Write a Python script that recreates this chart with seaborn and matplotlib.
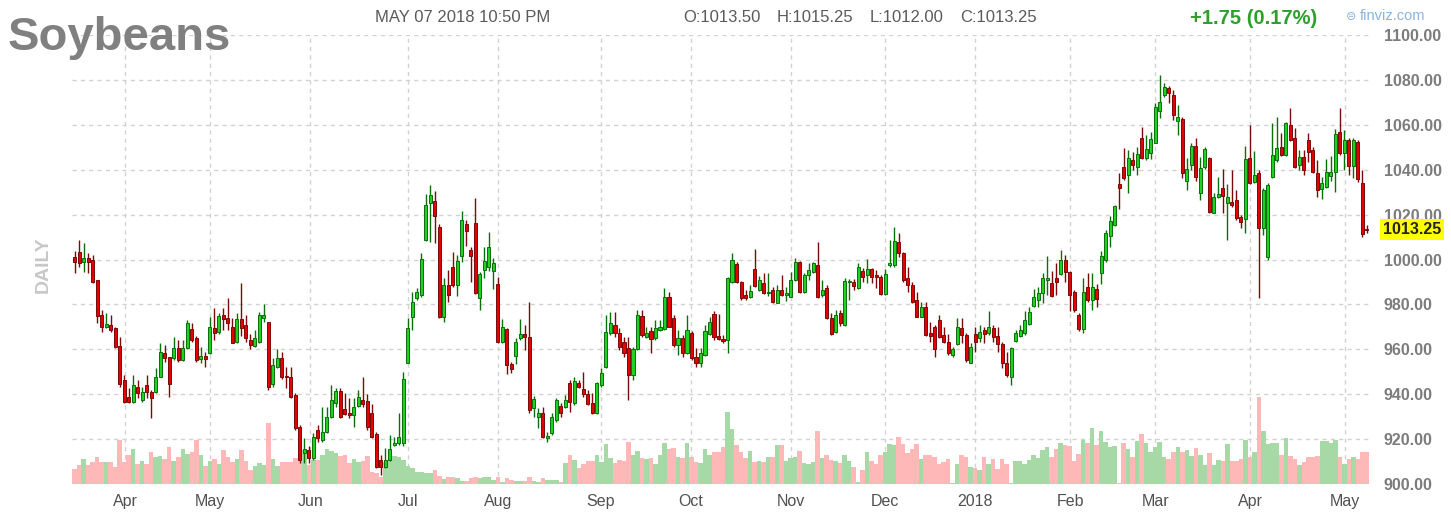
import numpy as np
import pandas as pd
import matplotlib
matplotlib.use("Agg")
import matplotlib.pyplot as plt
import seaborn as sns

# ---------------- data ----------------
title = "Soybeans"
timestamp = "MAY 07 2018 10:50 PM"
ohlc_text = ["O:1013.50", "H:1015.25", "L:1012.00", "C:1013.25"]
change_text = "+1.75 (0.17%)"
last_price = 1013.25
watermark = "finviz.com"
side_label = "DAILY"

open_ = [
    1001, 1003.5, 999, 1000.5, 999.8, 991, 975.3, 970, 970.8, 969.4, 961.5, 946.3, 938.9, 936.7, 943.3, 937.4, 944.1, 941.1, 941.1, 947.8, 958.2, 956.7, 956, 960.4, 955.2, 960.4,
    968.9, 964.9, 955.5, 957, 958.5, 969.4, 967.8, 975.3, 973.8, 969.8, 963.4, 973.4, 970.8, 964.1, 961.5, 963.4, 973.8, 972.3, 944.5, 952.3, 956, 948.2, 947.8, 939.6, 925.5, 913.9,
    915.1, 911.4, 924.1, 919.6, 923.3, 930, 935.9, 941.6, 933.3, 931.5, 930.7, 934.7, 937.4, 937, 931.5, 922.3, 910.7, 907.7, 910.7, 917.4, 918.1, 918.4, 954, 974.5, 982.7, 984.2, 1008.7,
    1025, 1026.2, 1014.3, 974.5, 988.6, 996.8, 988.6, 1001.6, 1015.8, 1004.2, 1016.4, 982.7, 995.3, 996.8, 995, 989.1, 963.4, 968.9, 953.5, 957, 964.9, 966.8, 965.6, 933.7, 930, 931.8, 920.4,
    922.6, 928.5, 934.9, 934.4, 944.9, 936, 944.9, 942.2, 940.1, 935.9, 931.5, 944.1, 952.3, 967.1, 970.8, 967.1, 963.4, 960.4, 948.6, 960, 974.8, 965.3, 968.3, 964.9, 968.6, 968.9,
    983.4, 973.8, 961.9, 964.9, 958.5, 967.1, 956.7, 954, 957.5, 966.8, 975.7, 965.9, 964.5, 964.1, 990.1, 998, 990.1, 984.2, 983.2, 995.6, 986.4, 989.7, 984.9, 986.4, 980.8, 986.4, 984.2,
    983.4, 990.9, 999, 985.7, 993.1, 994.6, 997.6, 984.2, 987.2, 973.8, 967.8, 976, 970.8, 990, 990.1, 987.2, 995, 993.1, 995.6, 993, 992.1, 984.6, 997.6, 997.6, 1008, 1002.8, 991.6,
    988.6, 982, 974.5, 979, 967.4, 970.1, 973, 966.4, 963.4, 957.5, 962.4, 969.4, 966.4, 954, 966.8, 964.9, 968.6, 967.1, 969.4, 966, 962.4, 953.8, 947.5, 963.8, 965.9, 967.1,
    971.3, 979.3, 982, 984.9, 990.9, 989.7, 991.6, 993.5, 999.8, 994.6, 985.7, 975.3, 968.9, 987.9, 982, 986.8, 994.2, 999.8, 1010.4, 1015.4, 1033.6, 1041, 1037.6, 1044.3, 1041, 1054, 1045.1,
    1047.6, 1052, 1066.3, 1073.3, 1076.3, 1073.3, 1061.8, 1062.4, 1035.1, 1041.9, 1050.4, 1029.5, 1041.1, 1045.1, 1020.8, 1028, 1031.7, 1025.3, 1025.8, 1026.5, 1018.8, 1017.9, 1045.1, 1034.7, 1038.4, 1013.9, 1001.3,
    1036.6, 1044.3, 1050.3, 1046.5, 1059.9, 1054, 1042.1, 1045.8, 1053.2, 1048.8, 1038.4, 1031.3, 1032.2, 1037.2, 1039.1, 1056.9, 1047.3, 1053.2, 1041.6, 1052.4, 1034.2, 1013.5,
]
close = [
    999, 998.3, 1000.5, 999, 990, 975, 970, 971.3, 968.6, 961.2, 944.5, 936.7, 936.7, 944.1, 940.4, 941.1, 941.1, 938.2, 947.8, 958.9, 956, 944.5, 960.4, 955.2, 960.4, 971.6,
    964.1, 955.2, 957, 955.5, 970.1, 967.4, 974.8, 973.4, 971.9, 962.9, 973.4, 969.4, 964.9, 961.9, 964.9, 975.3, 975.3, 943.3, 953, 956, 947.5, 947.5, 938.9, 924.8, 910.7, 915.6,
    911.4, 921.1, 920.4, 923.3, 930, 937.4, 941.6, 930, 931.2, 930.7, 934.2, 938.6, 935.6, 925.3, 921.1, 907.4, 907.7, 910.7, 915.5, 918.4, 920.8, 946.6, 969.4, 981.2, 985.7, 1000.1, 1024.3,
    1028.7, 1019.4, 974.2, 988.6, 984.2, 988.6, 999.5, 1017.6, 1012.8, 1001.6, 984.9, 993.5, 999.5, 1005.4, 998.6, 963.4, 970.1, 953, 951.1, 963.4, 966.8, 965.3, 933, 937.7, 931.8, 921.1, 921.4,
    930, 937.4, 931.5, 937.4, 936.7, 946, 943.3, 940.1, 935.6, 931.5, 944.9, 949.6, 967.8, 971.9, 967.1, 960.9, 958.2, 948.6, 960, 975.3, 966.4, 967.4, 964.5, 969.4, 970.1, 983.4,
    970.1, 961.9, 964.9, 958.2, 968.6, 956, 954, 958.2, 968.3, 972.3, 965.3, 964.5, 963.8, 991.6, 999.8, 990.1, 982.7, 982.7, 986.1, 988.2, 990.9, 984.9, 985.7, 981.2, 986.4, 984.2, 985,
    990.9, 999, 985.7, 993.1, 995.3, 998.3, 983.4, 986.4, 973.8, 966.8, 975.3, 971.6, 990.6, 990.6, 988.2, 996.8, 992.3, 995.6, 992, 992, 984.6, 993.5, 998.6, 1008.4, 1002.8, 991, 988.6,
    981.2, 974.5, 979, 966.4, 965.9, 960, 965.6, 963.4, 958.2, 960, 970.1, 966.4, 955.2, 961.2, 963.4, 967.8, 966.8, 970.1, 965.3, 962.4, 953.8, 948.6, 960.4, 967.4, 968.6, 973,
    976.8, 983.4, 985.2, 991.6, 991.6, 983.7, 990.1, 999.8, 994.6, 984.2, 977.5, 968.9, 985.7, 982, 987.7, 982.3, 1001.6, 1011.7, 1017.1, 1023.9, 1031.7, 1036.2, 1045.1, 1042.1, 1047, 1045.1, 1049.1,
    1053.5, 1068.1, 1070.3, 1077, 1074, 1064.4, 1063.6, 1038.4, 1040.2, 1050.4, 1036.6, 1040.6, 1049.1, 1021.3, 1028, 1029.2, 1028.3, 1028, 1024.3, 1018.3, 1016.8, 1044.6, 1034, 1037.6, 1013.9, 1031, 1033.2,
    1046.5, 1049.5, 1046.5, 1060.7, 1053.2, 1041.1, 1045.5, 1039.9, 1048, 1039.1, 1031, 1033.9, 1039.1, 1039.1, 1055.9, 1047.3, 1053.2, 1041.6, 1053.2, 1035.7, 1011.5, 1013.25,
]
high = [
    1004, 1008.7, 1007.5, 1003, 1002, 991, 977.5, 976, 975.3, 970, 965.6, 948.6, 942.6, 948.6, 946.3, 943.3, 948.6, 941.9, 951.5, 962.7, 961.9, 956.7, 965.6, 964.1, 964, 973,
    971.6, 966, 961.2, 959, 974.3, 978.3, 976, 978.3, 982.7, 973.8, 976, 989.4, 975.3, 966.8, 968.6, 976.8, 980.2, 972.3, 956, 960, 958.9, 952.3, 952.3, 940.4, 926.3, 920.4,
    917, 922.6, 926.3, 934.2, 934.2, 944.1, 942.6, 942.6, 940.4, 938.2, 938.2, 941.9, 947.5, 940.1, 935.6, 923.3, 912.9, 915.9, 921.8, 921.1, 931.8, 950, 973.8, 985.7, 987.2, 1003, 1029.2,
    1033.2, 1030.6, 1015.8, 991.6, 995.3, 1003.5, 1002, 1021.7, 1017.6, 1005.4, 1027.3, 994.6, 1005.7, 1012.4, 1000.5, 992.3, 973.4, 969.4, 954.5, 964.9, 973.4, 970.8, 981.2, 939.2, 933.7, 934.2, 923,
    931.5, 938.2, 935.9, 939.6, 946.3, 947.8, 946.3, 950, 941.9, 940.4, 945.6, 951.5, 975.3, 976.7, 976.7, 969.4, 965.6, 965.6, 961.2, 977.5, 977.5, 970.1, 969.8, 973, 973, 987.2,
    985.7, 975.3, 968.6, 966.4, 975.3, 968, 960.4, 960.4, 970.8, 974.3, 977.2, 975.7, 966.4, 992.3, 1003, 999, 990.6, 986.4, 988.6, 1004.5, 992.7, 993.8, 993.8, 987.6, 988.6, 993.1, 987.6,
    994.6, 1000.5, 999.5, 993.8, 998.3, 999, 1007.9, 990.9, 988.6, 976.3, 977.5, 977.5, 991.6, 991.2, 991.2, 998.3, 996.1, 1000.1, 996.1, 995.3, 993.1, 995.6, 1008.7, 1014.6, 1011.7, 1003.5, 996.8,
    990.1, 985.7, 981.2, 981.2, 972.3, 970.8, 975.3, 970.1, 966.8, 961.2, 973.8, 973.8, 967.4, 962.7, 970.1, 970.8, 970.1, 977.2, 970.8, 969.8, 963.4, 958.9, 961.2, 968.6, 970.8, 977.2,
    979, 986.7, 987.9, 994.1, 1001.6, 995, 998.3, 1004.2, 1002, 995, 986.4, 976, 991.6, 994.1, 994.1, 989.1, 1003.9, 1013.1, 1019.4, 1024.3, 1038.4, 1049.5, 1048.8, 1048, 1050.3, 1059.2, 1055.5,
    1056.9, 1069.9, 1082.2, 1078.5, 1077.3, 1075.5, 1068.8, 1063.6, 1045.1, 1052, 1054, 1045.8, 1050, 1045.8, 1029.5, 1036.9, 1040.2, 1033.6, 1039.9, 1031, 1019.8, 1050.6, 1059.9, 1048.5, 1039.9, 1032, 1034,
    1060.7, 1063.6, 1056.2, 1061.4, 1067.3, 1058.4, 1048.8, 1048.8, 1056.2, 1050.3, 1044.3, 1036.6, 1044.6, 1046, 1058, 1067.3, 1057.7, 1054, 1054, 1053.2, 1039.9, 1015.25,
]
low = [
    994, 996.8, 994.6, 994, 989.4, 971.6, 967.8, 969.5, 967.9, 960.4, 943.3, 935.9, 935.9, 935.9, 938.2, 936.7, 938.2, 929.3, 940.4, 947.5, 954.5, 938.9, 955.2, 954.5, 955, 960,
    963.4, 954.5, 953.8, 952.3, 958, 964.1, 966.8, 968.6, 968.6, 962.7, 962.7, 966, 963.4, 960, 961.2, 962.7, 972.3, 941.9, 943.3, 951.5, 946.6, 942.6, 938.2, 924.1, 909.2, 909.2,
    909.2, 910.7, 918.8, 918.8, 922.6, 929.3, 934.4, 929.3, 930.7, 929.3, 925.5, 934.4, 934.4, 924.1, 920.4, 907, 904, 907, 910.4, 916.9, 917.4, 916.9, 953.8, 968.6, 982, 983.4, 1008.4,
    1007.9, 1007.2, 973.8, 972.3, 981.2, 987.9, 983.7, 999, 1006, 990.1, 984.6, 977.5, 991.6, 995, 986.7, 962.7, 962.7, 949, 949.3, 953.5, 964.1, 959.7, 931.5, 930, 924.8, 920.4, 918.5,
    921.8, 927.8, 930, 933.7, 932.2, 935.2, 942.6, 938.9, 935.2, 931.2, 931.2, 943.3, 951.5, 966.4, 965.6, 959.7, 956.7, 937.4, 946.3, 959.7, 965.6, 964.9, 958.2, 964.1, 968.3, 968.6,
    969.8, 961.2, 957.5, 956.7, 957.9, 955.2, 952.3, 952.3, 957, 966.4, 964.1, 964.1, 963, 958.5, 989.4, 989.4, 982, 982, 982.7, 987.9, 986.1, 984.6, 983.7, 980.5, 980.5, 983.7, 981.6,
    983.2, 990.6, 985.2, 985.2, 990.9, 993.8, 982.7, 983.4, 973.4, 966.4, 967.4, 970.4, 970.4, 982, 986.4, 986.7, 990.1, 989.4, 989.4, 987.5, 984.2, 984.2, 996.8, 996.8, 1001.2, 990, 985.7,
    980.5, 974.3, 974.3, 965.9, 963.4, 956.7, 964.9, 962.7, 957.5, 956.7, 961.9, 963, 954.5, 953.8, 958.9, 963.4, 962.9, 966.4, 963.4, 958.9, 951.5, 947.8, 944.1, 963.4, 965.3, 966.4,
    970.8, 979, 978.7, 980.5, 984.2, 983.2, 984.2, 993.1, 990.1, 977.2, 976.8, 968.3, 967.4, 981.2, 977.5, 979, 989.1, 999, 1005.7, 1014.9, 1022.3, 1035.4, 1029.5, 1039.9, 1037.6, 1044.6, 1044.3,
    1044.6, 1051.8, 1062.9, 1072.5, 1069.6, 1062.1, 1055.5, 1036.2, 1031, 1039.9, 1035.1, 1026.5, 1040.2, 1020.6, 1020.6, 1027.3, 1020.6, 1008.7, 1023.5, 1017.6, 1013.9, 1011.9, 1033.6, 1033.9, 982.7, 1010.9, 1000,
    1036.2, 1043.6, 1046.1, 1046.1, 1052.9, 1040.6, 1039.9, 1037.6, 1043.6, 1038.4, 1028, 1026.8, 1031.7, 1035.1, 1030.2, 1046.5, 1039.9, 1037.6, 1036.2, 1034.7, 1009.9, 1012,
]
volume_k = [
    14.7, 19, 24.7, 19, 22.3, 27.3, 21.7, 21.7, 21.7, 17.3, 44, 21.7, 29, 35, 20, 23.3, 20, 31.7, 27.3, 28.3, 24.7, 36.7, 23.3, 27.3, 35, 30,
    31.7, 44, 29, 18.3, 23.3, 24.7, 20, 34, 27.3, 22.3, 24.7, 34, 23.3, 14, 18.3, 20.7, 19, 60.7, 24.7, 18.3, 21.7, 21.7, 21.7, 25.7, 25.7, 34,
    19, 24, 24, 29, 34.7, 33.3, 30.7, 28, 29, 20.7, 24.7, 22.3, 23.3, 28, 12.3, 10.7, 7.3, 22.3, 25.7, 28, 27.3, 24, 18, 15.7, 12.3, 12.3, 10.7,
    10.7, 14, 8, 4.7, 7.3, 7.3, 5.7, 3.3, 3.3, 5.7, 7.3, 5.7, 6.7, 6.7, 4, 7.3, 2.3, 5.7, 4, 3.3, 3.3, 3.3, 7.3, 3.3, 2.3, 5.7, 4,
    4, 4, 2.3, 21.3, 29, 24, 15.7, 20, 23.3, 23.3, 29, 22.3, 40, 25.7, 21.3, 24, 23.3, 42.3, 29, 33.3, 25.7, 24.7, 25.7, 20, 29, 40.7,
    34.7, 35.7, 26.7, 25.7, 40.7, 27.3, 22.3, 21.3, 34.7, 29, 32.3, 32.3, 36.7, 72.3, 54.7, 39, 32.3, 25.7, 33.3, 21.7, 23.3, 21.7, 27.3, 27.3, 39, 39, 23.3,
    25.7, 26.7, 33.3, 21.3, 20, 22.3, 53.3, 25.7, 29, 24, 23.3, 21.3, 29, 23.3, 17.3, 2.3, 14, 31.7, 23.3, 20, 29, 32.3, 40, 39, 47.3, 40, 31.3,
    34.7, 40, 24.7, 29, 29, 27.3, 20, 22.3, 24.7, 1, 20, 29, 27.3, 17.3, 15.7, 14, 26.7, 20, 24.7, 14.7, 24.7, 20, 1, 23.3, 23.3, 20,
    24, 29, 25.7, 34, 36.7, 26.7, 34.7, 40.7, 39, 38, 23.3, 30, 44, 40.7, 55.7, 39, 53.3, 42.3, 36.7, 38, 1, 40.7, 34.7, 27.3, 43.3, 50, 40.7,
    32.3, 36.7, 42.3, 27.3, 24.7, 32.3, 36.7, 32.3, 34, 28, 35.7, 29, 19, 30.7, 19, 24, 23.3, 40, 23.3, 23.3, 24.7, 44, 26.7, 32.3, 87.3, 53.3, 40,
    40.7, 40.7, 29, 45.7, 28, 24.7, 19, 22.3, 27.3, 26.7, 28, 43.3, 43.3, 41.3, 44, 26.7, 20, 24.7, 27.3, 24.7, 32.3, 32,
]
month_labels = ["Apr", "May", "Jun", "Jul", "Aug", "Sep", "Oct", "Nov", "Dec", "2018", "Feb", "Mar", "Apr", "May"]
month_start_idx = [11.2, 30.0, 52.3, 74.0, 94.0, 116.9, 136.9, 159.1, 180.0, 200.0, 221.1, 240.0, 261.1, 282.2]
price_ticks = [900, 920, 940, 960, 980, 1000, 1020, 1040, 1060, 1080, 1100]

# ---------------- style ----------------
sns.set_style("white")
plt.rcParams["font.family"] = ["Liberation Sans", "DejaVu Sans"]

W, H = 1451, 519
fig = plt.figure(figsize=(W / 100, H / 100), dpi=100)
L, R, B, T = 72, 1370, 484, 35
rect = [L / W, (H - B) / H, (R - L) / W, (B - T) / H]
axv = fig.add_axes(rect)
ax = fig.add_axes(rect, sharex=axv)
ax.set_zorder(axv.get_zorder() + 1)
ax.patch.set_visible(False)

df = pd.DataFrame(dict(open=open_, high=high, low=low, close=close, volume=volume_k))
df["idx"] = np.arange(len(df))
df["dir"] = np.where(df["close"] >= df["open"], "up", "down")

# ---------------- volume (seaborn) ----------------
vol_top = 449.0
sns.barplot(data=df, x="idx", y="volume", hue="dir",
            palette={"up": "#a6d9a6", "down": "#ffb8b8"},
            native_scale=True, width=1.0, dodge=False, saturation=1,
            errorbar=None, legend=False, linewidth=0, ax=axv)
axv.set_ylim(0, vol_top)
axv.set_yticks(np.linspace(0, vol_top, len(price_ticks)))
axv.set_xticks(month_start_idx)
axv.grid(True, linestyle=(0, (3, 3)), color="#d2d2d2", linewidth=1)
axv.set_axisbelow(True)
axv.tick_params(labelleft=False, labelbottom=False, length=0)
axv.set_xlabel("")
axv.set_ylabel("")
for s in axv.spines.values():
    s.set_visible(False)

# ---------------- candles ----------------
up = df["dir"] == "up"
body_lo = np.minimum(df["open"], df["close"])
body_h = np.maximum(np.abs(df["close"] - df["open"]), 0.35)
wick_col = np.where(up, "#0a6e0a", "#7a0a0a")
body_col = np.where(up, "#1fd21f", "#e40000")
ax.vlines(df["idx"], df["low"], df["high"], colors=wick_col, linewidth=1.0, zorder=2)
ax.bar(df["idx"], body_h, bottom=body_lo, width=0.68, color=body_col,
       edgecolor=wick_col, linewidth=0.7, zorder=3)

ax.set_xlim(-0.6, 287.7)
ax.set_ylim(price_ticks[0], price_ticks[-1])
ax.set_xticks(month_start_idx)
ax.set_xticklabels(month_labels)
ax.yaxis.tick_right()
ax.set_yticks(price_ticks)
ax.set_yticklabels([f"{p:.2f}" for p in price_ticks])
ax.tick_params(axis="y", length=0, pad=10, labelcolor="#7c7c7c", labelsize=11.5)
ax.tick_params(axis="x", length=0, pad=7, labelcolor="#505050", labelsize=11.5)
for lbl in ax.get_yticklabels():
    lbl.set_fontweight("bold")
ax.grid(False)
for s in ax.spines.values():
    s.set_visible(False)
ax.set_xlabel("")
ax.set_ylabel("")

# current price tag
ax.text((1383 - L) / (R - L), last_price, f"{last_price:.2f}", transform=ax.get_yaxis_transform(),
        ha="left", va="center", fontsize=11.5, fontweight="bold", color="#222222", zorder=10,
        bbox=dict(boxstyle="square,pad=0.18", facecolor="#ffff00", edgecolor="none"), clip_on=False)

# ---------------- header texts ----------------
def px(x, y):
    return x / W, 1 - y / H

fig.text(*px(8, 50), title, fontsize=34, fontweight="bold", color="#808080", va="baseline", ha="left")
fig.text(*px(375, 18), timestamp, fontsize=12, color="#5a5a5a", va="center", ha="left")
for xx, t in zip([683, 777, 870, 960], ohlc_text):
    fig.text(*px(xx, 18), t, fontsize=12, color="#5a5a5a", va="center", ha="left")
fig.text(*px(1190, 18), change_text, fontsize=14.5, fontweight="bold", color="#2ca02c", va="center", ha="left")
fig.text(*px(1346, 16.5), "\u229c", fontsize=9, color="#8ab4e0", va="center", ha="left",
         family=["DejaVu Sans"])
fig.text(*px(1360, 16.5), watermark, fontsize=10.5, color="#8ab4e0", va="center", ha="left")
fig.text(*px(43, 265), side_label, fontsize=14, fontweight="bold", color="#c8c8c8", rotation=90,
         va="center", ha="center")

fig.savefig("out.png", dpi=100)
